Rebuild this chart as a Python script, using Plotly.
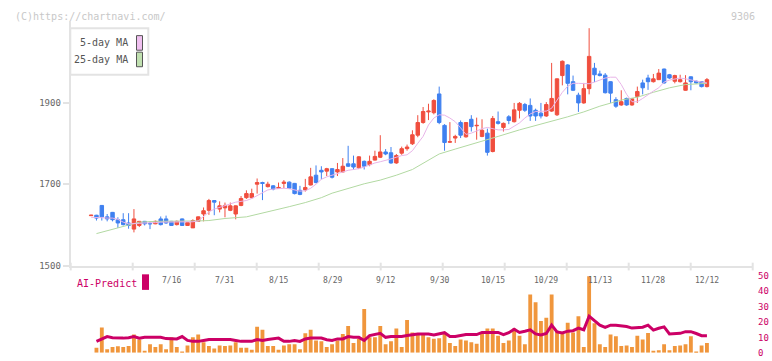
import plotly.graph_objects as go

W, H = 772, 361
FONT = "DejaVu Sans Mono"

# ---------------- data ----------------
# candle index 0..115 ; index 115 = 12/12
label_idx = [15, 25, 35, 45, 55, 65, 75, 85, 95, 105, 115]
label_txt = ["7/16", "7/31", "8/15", "8/29", "9/12", "9/30", "10/15", "10/29", "11/13", "11/28", "12/12"]

opens = [1623, 1624, 1648, 1620, 1631, 1613, 1613, 1605, 1590, 1599,
         1609, 1604, 1603, 1615, 1615, 1609, 1601, 1615, 1599, 1593,
         1609, 1627, 1636, 1660, 1639, 1642, 1636, 1627, 1648, 1667,
         1667, 1700, 1704, 1694, 1696, 1690, 1702, 1705, 1702, 1685,
         1686, 1698, 1722, 1734, 1732, 1738, 1730, 1730, 1750, 1750,
         1740, 1756, 1748, 1759, 1766, 1779, 1777, 1752, 1776, 1787,
         1799, 1820, 1851, 1877, 1875, 1921, 1844, 1803, 1813, 1851,
         1816, 1859, 1843, 1817, 1825, 1780, 1853, 1839, 1865, 1853,
         1881, 1895, 1893, 1881, 1874, 1867, 1879, 1870, 1966, 1992,
         1951, 1918, 1899, 1934, 1984, 1970, 1967, 1951, 1907, 1894,
         1910, 1894, 1915, 1948, 1960, 1951, 1956, 1982, 1968, 1952,
         1951, 1930, 1963, 1952, 1951, 1939]
highs = [1625, 1625, 1649, 1627, 1632, 1619, 1629, 1629, 1639, 1610,
         1610, 1609, 1611, 1621, 1623, 1610, 1611, 1616, 1607, 1614,
         1621, 1643, 1664, 1661, 1658, 1655, 1655, 1648, 1671, 1685,
         1689, 1714, 1706, 1706, 1698, 1704, 1710, 1707, 1703, 1696,
         1713, 1740, 1746, 1744, 1740, 1739, 1752, 1764, 1794, 1770,
         1769, 1758, 1770, 1782, 1820, 1786, 1791, 1774, 1792, 1797,
         1832, 1869, 1889, 1897, 1908, 1939, 1847, 1852, 1821, 1856,
         1852, 1869, 1863, 1859, 1836, 1867, 1878, 1851, 1869, 1899,
         1901, 1899, 1910, 1885, 1899, 1901, 1997, 1959, 2003, 1994,
         1966, 1924, 1948, 2082, 1997, 1978, 1972, 1952, 1913, 1930,
         1912, 1910, 1939, 1956, 1968, 1970, 1982, 1983, 1970, 1968,
         1968, 1967, 1964, 1954, 1952, 1960]
lows = [1623, 1611, 1611, 1609, 1609, 1593, 1599, 1591, 1582, 1595,
        1599, 1590, 1602, 1599, 1603, 1598, 1599, 1598, 1598, 1593,
        1608, 1609, 1625, 1624, 1631, 1619, 1634, 1614, 1646, 1664,
        1665, 1677, 1661, 1692, 1685, 1689, 1690, 1688, 1675, 1673,
        1682, 1697, 1702, 1712, 1720, 1714, 1720, 1729, 1742, 1736,
        1737, 1736, 1744, 1758, 1764, 1771, 1750, 1750, 1772, 1782,
        1796, 1815, 1848, 1857, 1871, 1847, 1782, 1801, 1801, 1813,
        1814, 1829, 1809, 1815, 1770, 1778, 1846, 1829, 1847, 1851,
        1861, 1877, 1855, 1855, 1861, 1865, 1877, 1867, 1942, 1920,
        1928, 1877, 1897, 1920, 1950, 1964, 1922, 1899, 1887, 1892,
        1892, 1892, 1899, 1920, 1931, 1949, 1955, 1946, 1958, 1947,
        1949, 1929, 1930, 1946, 1937, 1937]
closes = [1624, 1617, 1620, 1615, 1613, 1605, 1601, 1599, 1615, 1609,
          1603, 1603, 1609, 1601, 1605, 1599, 1609, 1599, 1606, 1611,
          1620, 1635, 1660, 1656, 1647, 1648, 1647, 1647, 1665, 1677,
          1677, 1704, 1702, 1700, 1688, 1692, 1705, 1690, 1677, 1675,
          1692, 1718, 1704, 1730, 1738, 1717, 1736, 1744, 1744, 1742,
          1767, 1744, 1756, 1768, 1779, 1774, 1752, 1770, 1787, 1791,
          1821, 1851, 1878, 1879, 1905, 1851, 1802, 1804, 1817, 1820,
          1851, 1841, 1844, 1832, 1778, 1861, 1849, 1849, 1856, 1882,
          1898, 1881, 1867, 1867, 1867, 1895, 1910, 1958, 2001, 1947,
          1930, 1899, 1934, 2013, 1968, 1966, 1924, 1923, 1891, 1902,
          1894, 1909, 1927, 1936, 1951, 1958, 1972, 1948, 1960, 1966,
          1956, 1948, 1951, 1948, 1939, 1956]

ma5 = [1619, 1619, 1618, 1617, 1617, 1614, 1607, 1603, 1603, 1604,
       1605, 1605, 1606, 1607, 1607, 1607, 1607, 1608, 1608, 1608,
       1610, 1620, 1632, 1639, 1643, 1648, 1652, 1656, 1658, 1660,
       1665, 1672, 1678, 1686, 1688, 1689, 1690, 1689, 1686, 1683,
       1684, 1690, 1700, 1712, 1718, 1722, 1725, 1730, 1734, 1736,
       1738, 1742, 1748, 1752, 1755, 1758, 1762, 1766, 1770, 1772,
       1782, 1800, 1817, 1845, 1862, 1870, 1869, 1862, 1853, 1838,
       1822, 1825, 1830, 1836, 1839, 1836, 1833, 1833, 1834, 1842,
       1850, 1862, 1872, 1878, 1878, 1879, 1886, 1905, 1925, 1940,
       1947, 1947, 1946, 1946, 1950, 1956, 1960, 1962, 1962, 1944,
       1920, 1902, 1902, 1910, 1920, 1928, 1936, 1950, 1955, 1958,
       1960, 1958, 1955, 1952, 1950, 1948]

ma25_idx = [1, 3, 5, 7, 9, 12, 16, 20, 22, 25, 29, 33, 37, 40, 43, 45, 48, 51, 54,
            57, 60, 63, 65, 68, 72, 76, 80, 84, 86, 89, 92, 95, 99, 102, 105, 108, 111, 115]
ma25_val = [1579, 1586, 1593, 1601, 1607, 1609, 1609, 1610, 1611, 1616, 1620, 1632,
            1645, 1655, 1667, 1678, 1689, 1701, 1710, 1722, 1736, 1758, 1774, 1786,
            1801, 1817, 1833, 1847, 1855, 1865, 1877, 1891, 1906, 1913, 1925, 1936,
            1944, 1947]

volume = [None,
          3.2, 16.4, 2.3, 3.8, 4.2, 3.8, 4.4, 11.8, 8.6, 1.3,
          5.5, 3.8, 5.5, 2.3, 10.1, 3.8, 0.6, 4.8, 10.1, 11.8,
          6.9, 4.4, 2.8, 4.8, 4.4, 4.8, 6.9, 3.2, 3.2, 1.9,
          16.8, 14.9, 4.4, 4.4, 1.9, 4.8, 5.5, 5.5, 2.3, 12.6,
          14.9, 8.0, 7.4, 3.8, 5.5, 8.0, 12.2, 17.4, 6.3, 9.1,
          28.3, 10.1, 10.1, 17.4, 5.5, 7.4, 15.7, 3.8, 21.2, 13.2,
          12.2, 11.6, 10.1, 9.1, 9.4, 12.2, 6.3, 4.4, 8.6, 8.0,
          6.9, 5.9, 12.2, 15.7, 15.7, 11.1, 6.3, 8.0, 15.7, 11.1,
          5.5, 37.8, 32.7, 20.6, 22.7, 37.8, 14.3, 13.2, 19.5, 13.2,
          23.7, 3.8, 49.6, 19.1, 5.5, 3.8, 11.8, 10.7, 4.4, 4.8,
          3.8, 11.1, 8.6, 12.8, 1.3, 1.7, 5.5, 1.7, 4.4, 4.8,
          5.5, 10.7, 0.6, 4.8, 6.3]

ai_predict = [None,
              7.4, 9.0, 10.5, 9.8, 9.5, 9.5, 9.8, 10.5, 9.5, 10.0,
              10.0, 10.0, 10.0, 9.2, 9.0, 9.0, 10.5, 8.0, 7.4, 7.4,
              8.0, 8.6, 8.6, 8.6, 8.6, 8.6, 8.0, 7.4, 7.4, 7.4,
              8.6, 8.0, 8.6, 9.0, 9.5, 7.4, 7.4, 8.0, 7.4, 9.0,
              9.5, 9.5, 9.5, 8.5, 8.0, 9.0, 9.0, 10.5, 10.0, 10.0,
              8.0, 11.1, 12.0, 12.6, 10.0, 10.5, 10.5, 10.5, 11.2, 11.8,
              12.2, 12.2, 12.2, 11.6, 12.4, 13.0, 10.5, 10.5, 11.2, 11.8,
              11.8, 11.8, 13.2, 13.2, 13.2, 13.2, 11.8, 13.0, 15.3, 13.2,
              14.0, 14.9, 12.2, 11.6, 12.5, 17.9, 13.5, 12.8, 14.0, 14.3,
              16.0, 14.9, 23.7, 20.6, 17.9, 16.4, 17.9, 17.9, 17.5, 17.0,
              16.0, 16.5, 16.6, 17.9, 14.7, 15.9, 16.8, 12.2, 12.6, 12.6,
              13.7, 13.7, 12.5, 11.1, 11.1]

price_ticks = [1500, 1700, 1900]
vol_ticks = [0, 10, 20, 30, 40, 50]

# ---------------- figure ----------------
idx = list(range(len(opens)))
RED, BLUE = "#f04e3e", "#3f80f0"
CRIMSON = "#cc0066"
AXC = "#e3e3e3"


def px(x):
    return x / W


def py(y):
    return 1 - y / H


fig = go.Figure()
fig.add_trace(go.Scatter(x=ma25_idx, y=ma25_val, mode="lines",
                         line=dict(color="#b2d9a2", width=1), hoverinfo="skip"))
fig.add_trace(go.Scatter(x=idx, y=ma5, mode="lines",
                         line=dict(color="#e8b4e8", width=1), hoverinfo="skip"))
fig.add_trace(go.Candlestick(
    x=idx, open=opens, high=highs, low=lows, close=closes,
    increasing=dict(line=dict(color=RED, width=1), fillcolor=RED),
    decreasing=dict(line=dict(color=BLUE, width=1), fillcolor=BLUE),
    whiskerwidth=0))
fig.add_trace(go.Bar(x=idx, y=volume, marker=dict(color="#f0963c", line=dict(width=0)),
                     width=0.72, xaxis="x2", yaxis="y2"))
fig.add_trace(go.Scatter(x=idx, y=ai_predict, mode="lines",
                         line=dict(color=CRIMSON, width=3), xaxis="x2", yaxis="y2"))

x_dom = [px(70.7), px(752.3)]
x_rng = [-3.81, 123.47]

fig.update_layout(
    width=W, height=H, margin=dict(l=0, r=0, t=0, b=0),
    paper_bgcolor="white", plot_bgcolor="white", showlegend=False,
    font=dict(family=FONT, size=10, color="#666"),
    boxgap=0.08,
    xaxis=dict(domain=x_dom, range=x_rng, showgrid=False, zeroline=False,
               showticklabels=False, ticks="", showline=True, linecolor=AXC,
               linewidth=2, rangeslider=dict(visible=False), anchor="y"),
    yaxis=dict(domain=[py(268.3), py(16.3)], range=[1500, 2100], tickvals=price_ticks,
               ticks="outside", ticklen=6, tickcolor=AXC, tickwidth=2,
               showline=True, linecolor=AXC, linewidth=2, showgrid=False,
               zeroline=False, tickfont=dict(size=9, color="#666", family=FONT),
               anchor="x"),
    xaxis2=dict(domain=x_dom, range=x_rng, matches="x", visible=False, anchor="y2"),
    yaxis2=dict(domain=[py(357.7), py(278.3)], range=[0, 50], tickvals=vol_ticks,
                side="right", anchor="x2", showgrid=False, zeroline=False,
                showline=False, ticks="outside", ticklen=3, tickcolor="rgba(0,0,0,0)",
                tickfont=dict(size=9, color=CRIMSON, family=FONT)),
)

shapes = []
# x-axis tick marks (fixed pixel grid)
for k in range(12):
    xx = 70.7 + 62 * k
    shapes.append(dict(type="line", xref="paper", yref="paper",
                       x0=px(xx), x1=px(xx), y0=py(265), y1=py(273),
                       line=dict(color=AXC, width=2)))
# legend box
shapes.append(dict(type="rect", xref="paper", yref="paper",
                   x0=px(70.3), x1=px(148.3), y0=py(71.7), y1=py(24),
                   line=dict(color=AXC, width=2), fillcolor="white"))
shapes.append(dict(type="rect", xref="paper", yref="paper",
                   x0=px(136.5), x1=px(142.5), y0=py(46.5), y1=py(31.5),
                   line=dict(color="#555", width=1), fillcolor="#f0c0f0"))
shapes.append(dict(type="rect", xref="paper", yref="paper",
                   x0=px(136.5), x1=px(142.5), y0=py(63.5), y1=py(48.5),
                   line=dict(color="#555", width=1), fillcolor="#c0e0b0"))
# AI-Predict swatch
shapes.append(dict(type="rect", xref="paper", yref="paper",
                   x0=px(142), x1=px(149), y0=py(293), y1=py(277),
                   line=dict(width=0), fillcolor=CRIMSON))
fig.update_layout(shapes=shapes)

ann = []
ann.append(dict(text="(C)https://chartnavi.com/", xref="paper", yref="paper",
                x=px(13), y=py(12), xanchor="left", yanchor="middle", showarrow=False,
                font=dict(size=10, color="#c8c8c8", family=FONT)))
ann.append(dict(text="9306", xref="paper", yref="paper",
                x=px(757), y=py(12), xanchor="right", yanchor="middle", showarrow=False,
                font=dict(size=10, color="#c8c8c8", family=FONT)))
ann.append(dict(text="5-day MA", xref="paper", yref="paper",
                x=px(130), y=py(39), xanchor="right", yanchor="middle", showarrow=False,
                font=dict(size=10, color="#555", family=FONT)))
ann.append(dict(text="25-day MA", xref="paper", yref="paper",
                x=px(130), y=py(56.5), xanchor="right", yanchor="middle", showarrow=False,
                font=dict(size=10, color="#555", family=FONT)))
ann.append(dict(text="AI-Predict", xref="paper", yref="paper",
                x=px(75), y=py(286), xanchor="left", yanchor="middle", showarrow=False,
                font=dict(size=10, color=CRIMSON, family=FONT)))
for i, t in zip(label_idx, label_txt):
    ann.append(dict(text=t, xref="x", yref="paper", x=i, y=py(283),
                    xanchor="center", yanchor="middle", showarrow=False,
                    font=dict(size=8, color="#666", family=FONT)))
fig.update_layout(annotations=ann)

fig.write_html("out.html", config={"displayModeBar": False},
               post_script="document.body.style.margin='0px';document.body.style.overflow='hidden';")
